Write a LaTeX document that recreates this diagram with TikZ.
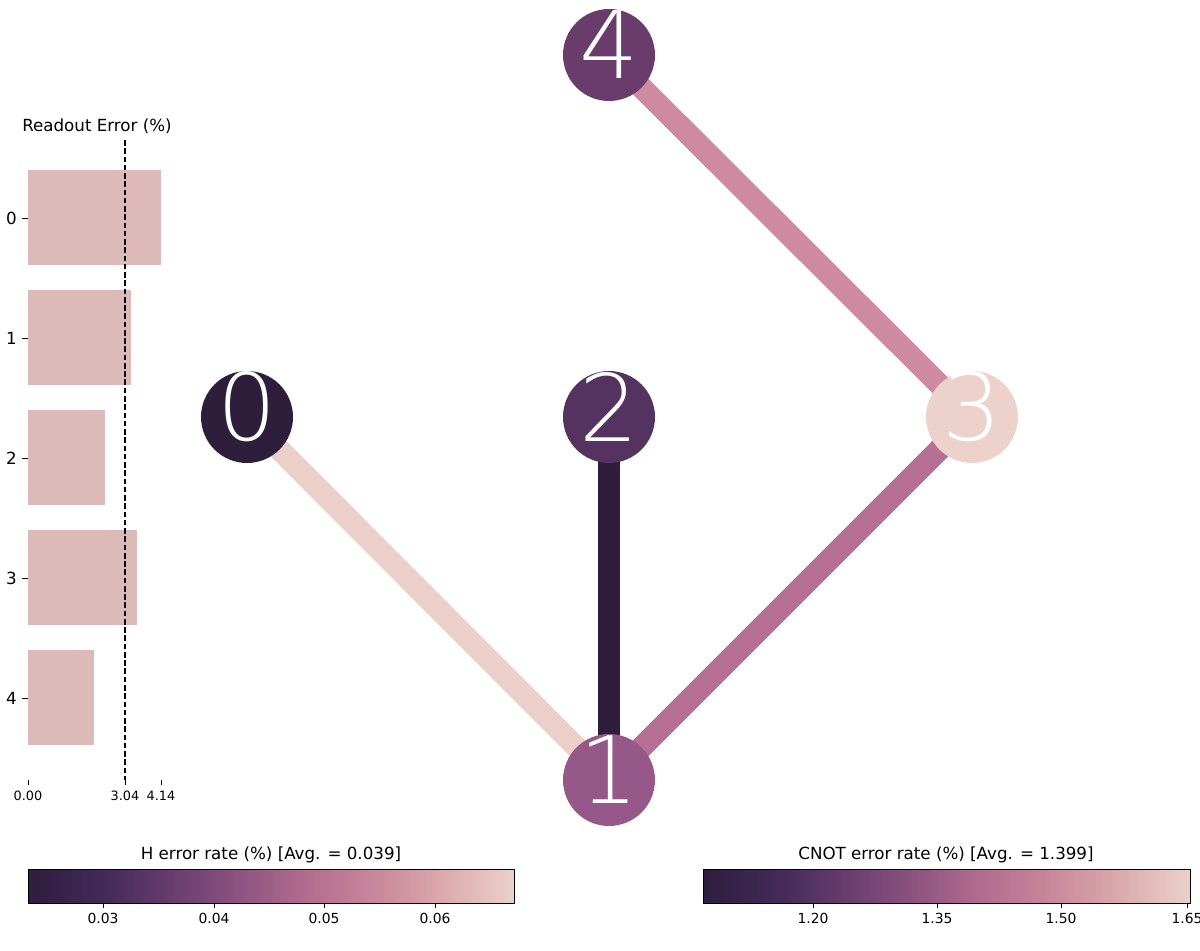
\documentclass[tikz,border=0pt]{standalone}
\usepackage{fontspec}
\setmainfont{DejaVu Sans}
\newfontfamily\thinfont{DejaVu Sans ExtraLight}
\usetikzlibrary{backgrounds}
\definecolor{chA}{RGB}{45,30,62}
\definecolor{chB}{RGB}{68,42,88}
\definecolor{chC}{RGB}{105,62,110}
\definecolor{chD}{RGB}{140,82,128}
\definecolor{chE}{RGB}{172,105,140}
\definecolor{chF}{RGB}{196,128,152}
\definecolor{chG}{RGB}{212,155,165}
\definecolor{chH}{RGB}{224,182,182}
\definecolor{chI}{RGB}{235,208,202}
\definecolor{qcol0}{RGB}{46,30,59}
\definecolor{qcol1}{RGB}{150,88,136}
\definecolor{qcol2}{RGB}{85,51,96}
\definecolor{qcol3}{RGB}{237,210,204}
\definecolor{qcol4}{RGB}{105,60,108}
\definecolor{ecol01}{RGB}{235,208,202}
\definecolor{ecol21}{RGB}{46,30,60}
\definecolor{ecol13}{RGB}{182,112,148}
\definecolor{ecol43}{RGB}{205,138,160}
\definecolor{readcol}{RGB}{220,186,186}
\pgfdeclarehorizontalshading{cubehelix}{100bp}{color(0bp)=(chA); color(25bp)=(chA); color(33bp)=(chB); color(40bp)=(chC); color(46.5bp)=(chD); color(52.5bp)=(chE); color(59bp)=(chF); color(65bp)=(chG); color(70bp)=(chH); color(75bp)=(chI); color(100bp)=(chI)}
\begin{document}
\begin{tikzpicture}[x=0.02cm,y=-0.02cm,line join=bevel,
  qubit/.style={circle,draw=none,inner sep=0pt,minimum size=1.84cm},
  qlabel/.style={text=white,yshift=0.2cm,inner sep=0pt,font=\thinfont\fontsize{53}{53}\selectfont},
  coupler/.style={line width=0.44cm},
  ticklbl/.style={inner sep=0pt,font=\fontsize{7.9}{8}\selectfont},
  titlelbl/.style={inner sep=0pt,font=\fontsize{9.5}{10}\selectfont},
  smalllbl/.style={inner sep=0pt,font=\fontsize{7.3}{8}\selectfont},
  ]
\useasboundingbox (0,0) rectangle (1200,950);
%% qubits
\node (node_4) at (609,55) [qubit,fill=qcol4,label={[qlabel]center:4}] {};
\node (node_0) at (247,417) [qubit,fill=qcol0,label={[qlabel]center:0}] {};
\node (node_2) at (609,417) [qubit,fill=qcol2,label={[qlabel]center:2}] {};
\node (node_3) at (972,417) [qubit,fill=qcol3,label={[qlabel]center:3}] {};
\node (node_1) at (609,780) [qubit,fill=qcol1,label={[qlabel]center:1}] {};
%% couplers
\begin{scope}[on background layer]
  \draw [coupler,ecol01] (node_0.center) -- (node_1.center);
  \draw [coupler,ecol21] (node_2.center) -- (node_1.center);
  \draw [coupler,ecol13] (node_1.center) -- (node_3.center);
  \draw [coupler,ecol43] (node_4.center) -- (node_3.center);
\end{scope}
%% readout error
\node (ro_title) at (97,126) [titlelbl] {Readout Error (\%)};
\foreach \q/\len in {0/161,1/131,2/105,3/137,4/94} {
  \fill [readcol] (28,170+120*\q) rectangle (\len,265+120*\q);
  \draw [line width=0.5pt] (22,218+120*\q) -- (28,218+120*\q);
  \node (ro_\q) at (17,218+120*\q) [titlelbl,anchor=east] {\q};
}
\draw [line width=0.8pt,dash pattern=on 3.2pt off 1.5pt] (125,140) -- (125,780);
\foreach \x/\v in {28/0.00,125/3.04,161/4.14} {
  \draw [line width=0.5pt] (\x,780) -- (\x,785);
  \node at (\x,791) [smalllbl,anchor=north] {\v};
}
%% H error colorbar
\node (h_title) at (271,855) [titlelbl] {H error rate (\%) [Avg. = 0.039]};
\shade [shading=cubehelix] (28,869) rectangle (514,903);
\draw [line width=0.5pt] (28,869) rectangle (514,903);
\foreach \x/\v in {103/0.03,214/0.04,324/0.05,435/0.06} {
  \draw [line width=0.5pt] (\x,903) -- (\x,908);
  \node at (\x,913) [ticklbl,anchor=north] {\v};
}
%% CNOT error colorbar
\node (cx_title) at (946,855) [titlelbl] {CNOT error rate (\%) [Avg. = 1.399]};
\shade [shading=cubehelix] (703,869) rectangle (1190,903);
\draw [line width=0.5pt] (703,869) rectangle (1190,903);
\foreach \x/\v in {813/1.20,937/1.35,1061/1.50,1187/1.65} {
  \draw [line width=0.5pt] (\x,903) -- (\x,908);
  \node at (\x,913) [ticklbl,anchor=north] {\v};
}
%
\end{tikzpicture}
\end{document}
